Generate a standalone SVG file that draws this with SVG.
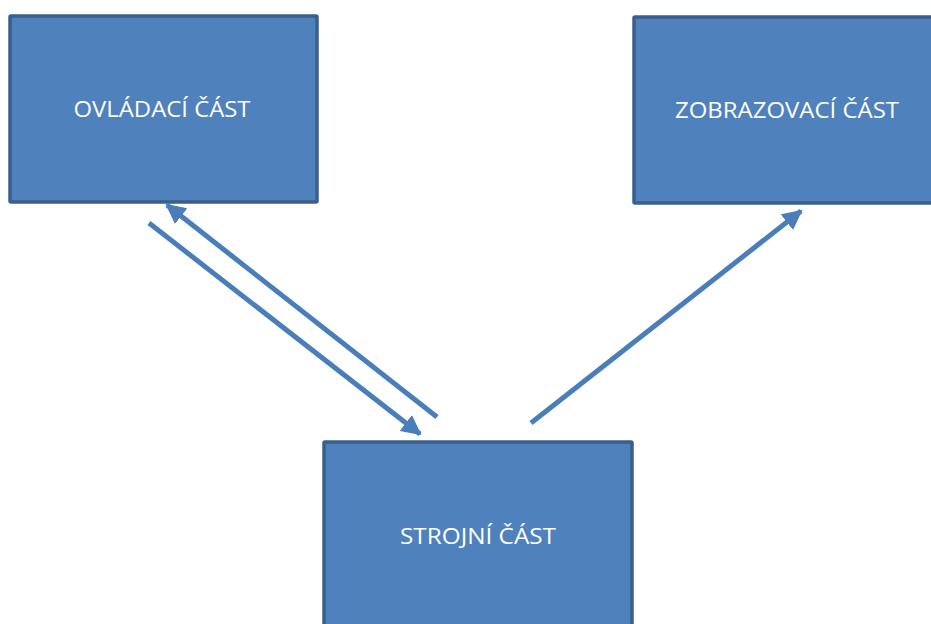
<svg xmlns="http://www.w3.org/2000/svg" width="931" height="624" viewBox="0 0 931 624">
  <style>
    .box { fill: #4f81bd; stroke: #3a5f8c; stroke-width: 3.5; }
    .label { fill: #ffffff; font-family: "Open Sans", "Noto Sans", sans-serif; font-size: 22.5px; text-anchor: middle; }
    .link { stroke: #4a7ebb; stroke-width: 5; fill: none; marker-end: url(#head); }
  </style>
  <defs>
    <marker id="head" viewBox="0 0 10 10" refX="9" refY="5" markerWidth="4" markerHeight="4" orient="auto" markerUnits="strokeWidth">
      <path d="M0,0 L10,5 L0,10 z" fill="#4a7ebb"/>
    </marker>
  </defs>

  <g id="ovladaci">
    <rect class="box" x="10" y="16" width="307" height="186" rx="1"/>
    <text class="label" x="162" y="117" textLength="177" lengthAdjust="spacingAndGlyphs">OVLÁDACÍ ČÁST</text>
  </g>

  <g id="zobrazovaci">
    <rect class="box" x="634" y="17" width="310" height="186" rx="1"/>
    <text class="label" x="787" y="118" textLength="224" lengthAdjust="spacingAndGlyphs">ZOBRAZOVACÍ ČÁST</text>
  </g>

  <g id="strojni">
    <rect class="box" x="324" y="442" width="308" height="200" rx="1"/>
    <text class="label" x="478" y="544" textLength="156" lengthAdjust="spacingAndGlyphs">STROJNÍ ČÁST</text>
  </g>

  <g id="connectors">
    <line class="link" x1="149" y1="223" x2="420" y2="434"/>
    <line class="link" x1="437" y1="417" x2="167" y2="205"/>
    <line class="link" x1="531" y1="423" x2="801" y2="211"/>
  </g>
</svg>
